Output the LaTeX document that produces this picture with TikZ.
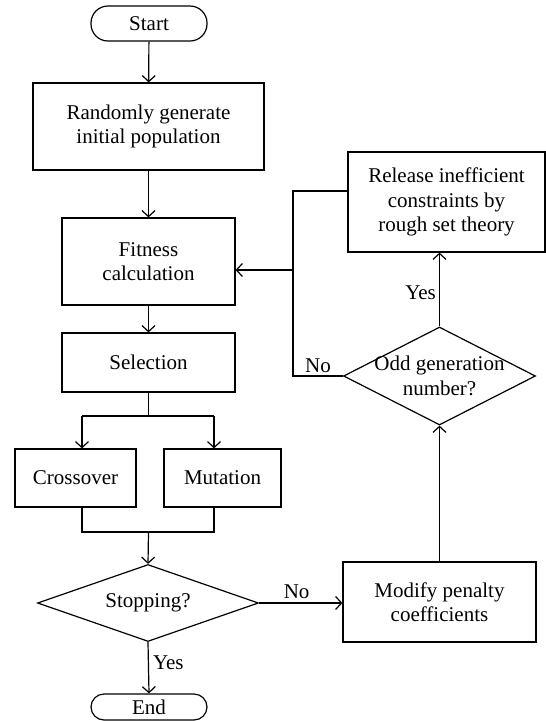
\documentclass[tikz,border=0pt]{standalone}
\usepackage{fontspec}
\setmainfont{Liberation Serif}
\usetikzlibrary{shapes.geometric,arrows.meta}
\begin{document}
\begin{tikzpicture}[x=1pt,y=-1pt,
  every node/.style={font=\fontsize{21}{24.5}\selectfont},
  line width=1.2pt,
  arr/.style={-{Straight Barb[length=6pt,width=13pt,line width=1.2pt]}},
  box/.style={draw,rectangle,align=center,inner sep=0pt},
  term/.style={draw,rectangle,rounded corners=13pt,inner sep=0pt,minimum width=116pt},
  dia/.style={draw,diamond,inner sep=0pt},
  lbl/.style={inner sep=0pt}]
\useasboundingbox (0,0) rectangle (546,721);
% nodes
\node[term,minimum height=35pt,rounded corners=17pt] (start) at (149,23.5) {Start};
\node[box,minimum width=231pt,minimum height=87pt] (random) at (148.5,126.5) {Randomly generate\\initial population};
\node[box,minimum width=173pt,minimum height=87pt] (fitness) at (148.5,261.5) {Fitness\\calculation};
\node[box,minimum width=173pt,minimum height=59pt] (selection) at (148.5,362.5) {Selection};
\node[box,minimum width=121pt,minimum height=58pt] (cross) at (75.5,478) {Crossover};
\node[box,minimum width=117pt,minimum height=58pt] (mut) at (222.5,478) {Mutation};
\node[dia,minimum width=221pt,minimum height=77pt,label={[lbl]center:Stopping?}] (stop) at (148,603) {};
\node[term,minimum height=26pt] (end) at (149,707) {End};
\node[box,minimum width=193pt,minimum height=80pt] (mod) at (439.5,602) {Modify penalty\\coefficients};
\node[dia,minimum width=192pt,minimum height=98pt,label={[lbl,align=center]center:Odd generation\\number?}] (odd) at (439.5,376) {};
\node[box,minimum width=197pt,minimum height=100pt] (release) at (446.5,202) {Release inefficient\\constraints by\\rough set theory};
% coordinates
\coordinate (spl) at (148.5,416);
\coordinate (spL) at (82,416);
\coordinate (spR) at (214,416);
\coordinate (jnL) at (82,532);
\coordinate (jnR) at (214,532);
\coordinate (jn) at (148.5,532);
\coordinate (fbB) at (293,376);
\coordinate (fbT) at (293,191);
\coordinate (fbM) at (293,270);
% connectors
\draw[arr] (start) -- (random);
\draw[arr] (random) -- (fitness);
\draw[arr] (fitness) -- (selection);
\draw (selection.south) -- (spl);
\draw (spL) -- (spR);
\draw[arr] (spL) -- (spL |- cross.north);
\draw[arr] (spR) -- (spR |- mut.north);
\draw (spL |- cross.south) -- (jnL) -- (jnR) -- (spR |- mut.south);
\draw[arr] (jn) -- (stop.north);
\draw[arr] (stop.south) -- node[lbl,right=4pt,pos=0.4] (yes1) {Yes} (end.north);
\draw[arr] (stop.east) -- node[lbl,above=4pt,pos=0.45] (no1) {No} (stop.east -| mod.west);
\draw[arr] (mod.north) -- (odd.south);
\draw[arr] (odd.north) -- node[lbl,left=3pt,pos=0.45] (yes2) {Yes} (odd.north |- release.south);
\draw (odd.west) -- node[lbl,above=3pt,pos=0.5] (no2) {No} (fbB) -- (fbT) -- (release.west |- fbT);
\draw[arr] (fbM) -- (fitness.east |- fbM);
\end{tikzpicture}
\end{document}
